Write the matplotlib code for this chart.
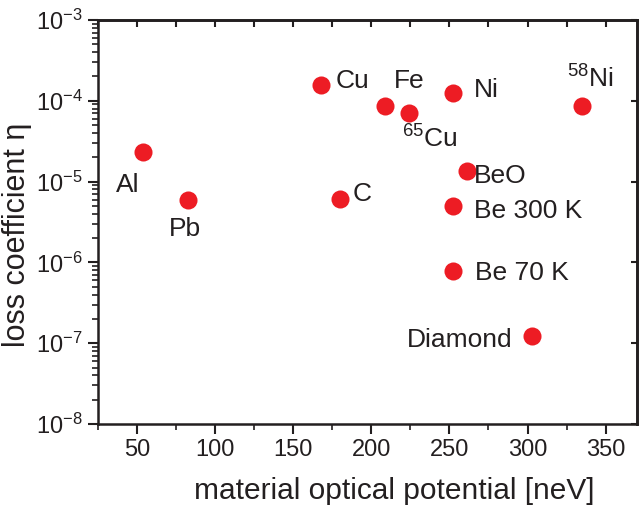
import matplotlib.pyplot as plt
from matplotlib.ticker import FixedLocator, FixedFormatter, LogLocator, NullFormatter

plt.rcParams['font.family'] = ['Liberation Sans', 'DejaVu Sans']
plt.rcParams['mathtext.fontset'] = 'custom'
plt.rcParams['mathtext.rm'] = 'Liberation Sans'
plt.rcParams['mathtext.it'] = 'Liberation Sans:italic'

# material optical potential [neV] and loss coefficient
materials = ['Al', 'Pb', 'Cu', 'Fe', r'$\mathregular{^{65}}$Cu', 'Ni', r'$\mathregular{^{58}}$Ni',
             'BeO', 'C', 'Be 300 K', 'Be 70 K', 'Diamond']
potential = [54, 83, 168, 209, 224, 252, 335, 261, 180, 252, 252, 303]
eta = [2.3e-5, 6.0e-6, 1.57e-4, 8.6e-5, 7.1e-5, 1.26e-4, 8.6e-5, 1.35e-5, 6.1e-6, 5.0e-6, 7.8e-7, 1.23e-7]

# label offsets in pixels (dx, dy), alignment
offsets = [(-15, -40, 'center'), (-3, -36, 'center'), (14, -3, 'left'), (24, 18, 'center'),
           (21, -35, 'center'), (21, -4, 'left'), (8, 18, 'center'), (7, -12, 'left'),
           (13, -2, 'left'), (21, -12, 'left'), (22, -9, 'left'), (-20, -11, 'right')]

xmajor = [50, 100, 150, 200, 250, 300, 350]
xminor = [25, 75, 125, 175, 225, 275, 325]
ytick_vals = [1e-8, 1e-7, 1e-6, 1e-5, 1e-4, 1e-3]
ytick_labels = [r'$\mathregular{10^{-%d}}$' % k for k in [8, 7, 6, 5, 4, 3]]

dark = '#231F20'

fig = plt.figure(figsize=(6.4, 5.09), dpi=100)
ax = fig.add_axes([0.1527, 0.167, 0.9953 - 0.1527, 0.9607 - 0.167])

ax.plot(potential, eta, 'o', color='#ED1C24', markersize=13, markeredgewidth=0)

for name, x, y, (dx, dy, ha) in zip(materials, potential, eta, offsets):
    ax.annotate(name, (x, y), xytext=(dx, dy), textcoords='offset pixels',
                ha=ha, va='baseline', fontsize=19, color=dark)

ax.set_yscale('log')
ax.set_xlim(25, 370)
ax.set_ylim(1e-8, 1e-3)

ax.xaxis.set_major_locator(FixedLocator(xmajor))
ax.xaxis.set_minor_locator(FixedLocator(xminor))
ax.yaxis.set_major_locator(FixedLocator(ytick_vals))
ax.yaxis.set_major_formatter(FixedFormatter(ytick_labels))
ax.yaxis.set_minor_locator(LogLocator(base=10, subs=range(2, 10), numticks=20))
ax.yaxis.set_minor_formatter(NullFormatter())

ax.tick_params(which='major', direction='out', length=7, width=1.5, labelsize=17,
               colors=dark, pad=4)
ax.tick_params(which='minor', direction='out', length=4, width=1.2, colors=dark)

# top axis: inward ticks, no labels
top = ax.secondary_xaxis('top')
top.xaxis.set_major_locator(FixedLocator(xmajor + xminor))
top.tick_params(direction='in', length=5, width=1.5, labeltop=False, colors=dark)
top.spines['top'].set_linewidth(1.8)

# right axis: inward major ticks only
right = ax.secondary_yaxis('right')
right.yaxis.set_major_locator(FixedLocator(ytick_vals))
right.yaxis.set_minor_locator(FixedLocator([]))
right.tick_params(direction='in', length=4, width=1.5, labelright=False, colors=dark)
right.spines['right'].set_linewidth(1.8)

for s in ax.spines.values():
    s.set_linewidth(1.8)
    s.set_color(dark)

ax.set_xlabel('material optical potential [neV]', fontsize=21.5, color=dark)
ax.set_ylabel('loss coefficient η', fontsize=22, color=dark)
ax.xaxis.set_label_coords(0.549, -0.131)
ax.yaxis.set_label_coords(-0.121, 0.468)

fig.savefig('out.png', dpi=100)
